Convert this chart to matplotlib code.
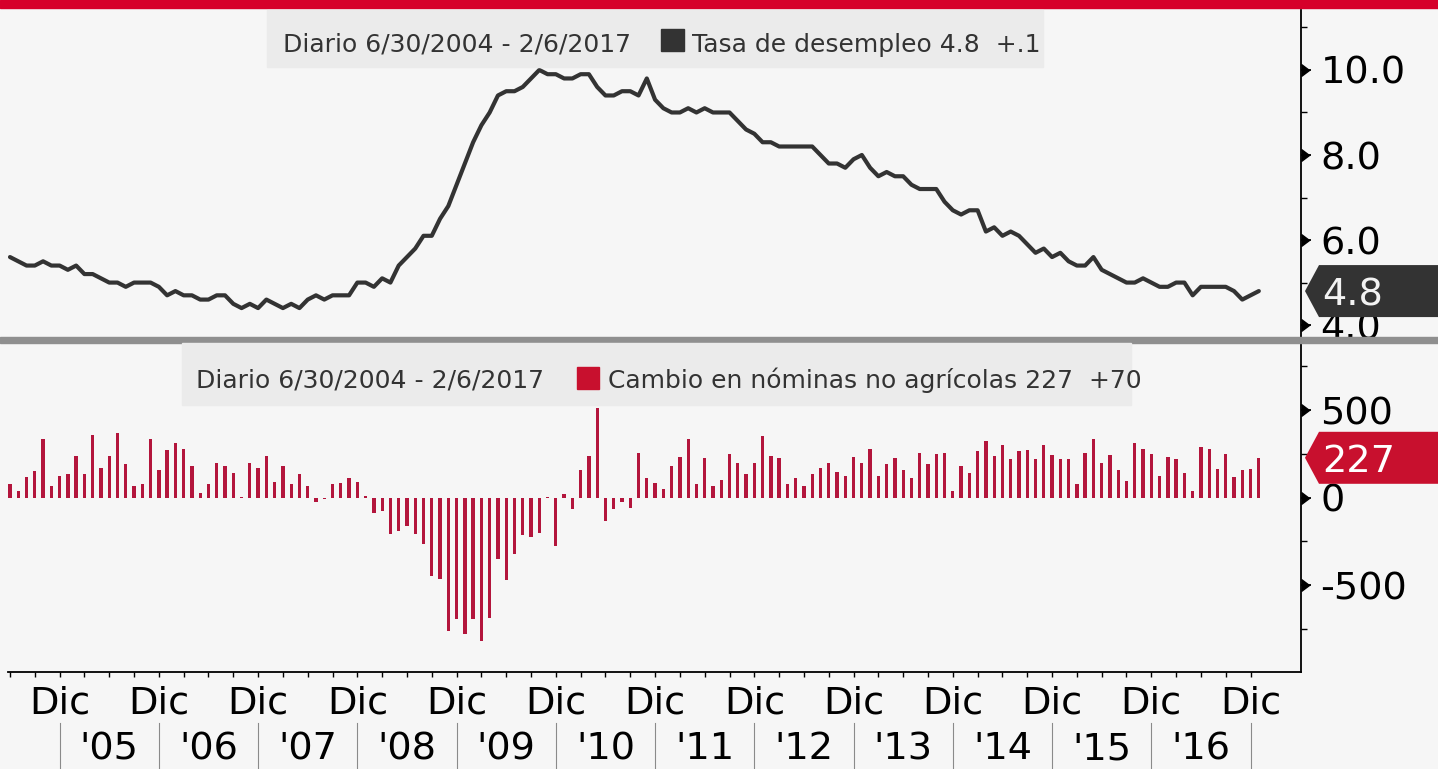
import numpy as np
import matplotlib
matplotlib.use("Agg")
import matplotlib.pyplot as plt
from matplotlib.patches import Rectangle, Polygon

plt.rcParams["font.family"] = ["DejaVu Sans"]
plt.rcParams["axes.unicode_minus"] = False

# ---------------- data ----------------
start_year, start_month = 2004, 6   # first observation: June 2004

# Unemployment rate (%), monthly Jun-2004 .. Jan-2017
unemployment = [
    5.6, 5.5, 5.4, 5.4, 5.5, 5.4, 5.4,
    5.3, 5.4, 5.2, 5.2, 5.1, 5.0, 5.0, 4.9, 5.0, 5.0, 5.0, 4.9,
    4.7, 4.8, 4.7, 4.7, 4.6, 4.6, 4.7, 4.7, 4.5, 4.4, 4.5, 4.4,
    4.6, 4.5, 4.4, 4.5, 4.4, 4.6, 4.7, 4.6, 4.7, 4.7, 4.7, 5.0,
    5.0, 4.9, 5.1, 5.0, 5.4, 5.6, 5.8, 6.1, 6.1, 6.5, 6.8, 7.3,
    7.8, 8.3, 8.7, 9.0, 9.4, 9.5, 9.5, 9.6, 9.8, 10.0, 9.9, 9.9,
    9.8, 9.8, 9.9, 9.9, 9.6, 9.4, 9.4, 9.5, 9.5, 9.4, 9.8, 9.3,
    9.1, 9.0, 9.0, 9.1, 9.0, 9.1, 9.0, 9.0, 9.0, 8.8, 8.6, 8.5,
    8.3, 8.3, 8.2, 8.2, 8.2, 8.2, 8.2, 8.0, 7.8, 7.8, 7.7, 7.9,
    8.0, 7.7, 7.5, 7.6, 7.5, 7.5, 7.3, 7.2, 7.2, 7.2, 6.9, 6.7,
    6.6, 6.7, 6.7, 6.2, 6.3, 6.1, 6.2, 6.1, 5.9, 5.7, 5.8, 5.6,
    5.7, 5.5, 5.4, 5.4, 5.6, 5.3, 5.2, 5.1, 5.0, 5.0, 5.1, 5.0,
    4.9, 4.9, 5.0, 5.0, 4.7, 4.9, 4.9, 4.9, 4.9, 4.8, 4.6, 4.7,
    4.8,
]

# Nonfarm payroll change (thousands), monthly Jun-2004 .. Jan-2017
payrolls = [
    76, 38, 115, 152, 337, 67, 124,
    133, 238, 133, 360, 167, 238, 367, 190, 67, 76, 337, 156,
    270, 314, 280, 181, 25, 76, 200, 181, 143, 2, 200, 171,
    238, 90, 181, 76, 133, 67, -25, -10, 76, 82, 114, 86,
    10, -86, -76, -210, -190, -162, -210, -267, -448, -467, -762, -695,
    -781, -695, -819, -686, -349, -470, -324, -215, -223, -200, 5, -276,
    19, -63, 158, 238, 514, -133, -67, -25, -57, 257, 114, 82,
    48, 181, 229, 337, 80, 225, 67, 101, 248, 200, 133, 200,
    349, 238, 225, 80, 114, 67, 133, 168, 200, 147, 124, 234,
    200, 280, 124, 190, 225, 156, 114, 257, 190, 248, 257, 38,
    181, 143, 267, 324, 238, 299, 219, 267, 270, 223, 299, 244,
    223, 223, 76, 257, 333, 200, 242, 156, 95, 310, 276, 248,
    124, 234, 223, 143, 38, 291, 276, 162, 248, 120, 158, 162,
    227,
]

period_label = "Diario 6/30/2004 - 2/6/2017"
unemp_label = "Tasa de desempleo 4.8  +.1"
payroll_label = "Cambio en nóminas no agrícolas 227  +70"
month_label = "Dic"
year_labels = ["'05", "'06", "'07", "'08", "'09", "'10", "'11",
               "'12", "'13", "'14", "'15", "'16"]
unemp_major = [4.0, 6.0, 8.0, 10.0]
unemp_minor = [5.0, 7.0, 9.0, 11.0]
payroll_major = [-500, 0, 500]
payroll_minor = [-750, -250, 250, 750]

# ---------------- styling ----------------
W, H = 1438, 769
BG = "#f6f6f6"
LEG_BG = "#ebebeb"
LINE_C = "#333333"
BAR_C = "#b3153c"
TAG_RED = "#c8102e"
TXT = "#333333"
TICK_FS = 27.5
LEG_FS = 18

fig = plt.figure(figsize=(W / 100, H / 100), dpi=100, facecolor=BG)


def fx(px):
    return px / W


def fy(py):
    return 1 - py / H


x_left_px, x_right_px = 8, 1301
ax1 = fig.add_axes([fx(x_left_px), fy(337), fx(x_right_px) - fx(x_left_px), (337 - 10) / H])
ax2 = fig.add_axes([fx(x_left_px), fy(672), fx(x_right_px) - fx(x_left_px), (672 - 343) / H])

n = len(unemployment)
x = np.arange(n)
month_of = [(start_month - 1 + i) % 12 for i in range(n)]  # 0=Jan
dec_idx = [i for i in range(n) if month_of[i] == 11]
quarter_idx = [i for i in range(n) if month_of[i] % 3 == 2]

for ax in (ax1, ax2):
    ax.set_facecolor(BG)
    ax.set_xlim(-0.24, 156.1)
    for s in ("top", "left"):
        ax.spines[s].set_visible(False)
    ax.spines["right"].set_color("black")
    ax.spines["right"].set_linewidth(1.3)
    ax.yaxis.tick_right()

# ---- top panel: unemployment line ----
ax1.plot(x, unemployment, color=LINE_C, lw=3.0, solid_joinstyle="round",
         solid_capstyle="round")
ax1.set_ylim(3.72, 11.41)
ax1.spines["bottom"].set_visible(False)
ax1.set_xticks([])
ax1.set_yticks(unemp_major, labels=[f"{v:.1f}" for v in unemp_major])
ax1.set_yticks(unemp_minor, minor=True)

# ---- bottom panel: payroll bars ----
ax2.bar(x, payrolls, width=0.4, color=BAR_C, linewidth=0)
ax2.set_ylim(-997, 883)
ax2.spines["bottom"].set_color("black")
ax2.spines["bottom"].set_linewidth(1.3)
ax2.set_yticks(payroll_major, labels=[f"{v:d}" for v in payroll_major])
ax2.set_yticks(payroll_minor, minor=True)
ax2.set_xticks(dec_idx, labels=[""] * len(dec_idx))
ax2.set_xticks(quarter_idx, minor=True)
ax2.tick_params(axis="x", which="both", direction="out", length=3.8, width=1,
                color="black")

for ax, majors in ((ax1, unemp_major), (ax2, payroll_major)):
    ax.tick_params(axis="y", which="major", direction="out", length=7, width=1.3,
                   pad=7, labelsize=TICK_FS, labelcolor="black")
    ax.tick_params(axis="y", which="minor", direction="out", length=4.5, width=1)
    ax.plot([1.0] * len(majors), majors, transform=ax.get_yaxis_transform(),
            marker=9, ms=8, color="black", ls="none", clip_on=False, zorder=5)

# x-axis labels: "Dic" under each December tick and year labels between
xform = ax2.get_xaxis_transform()
ax_h = 672 - 343
for i in dec_idx:
    ax2.text(i, (672 - 713) / ax_h, month_label, transform=xform, ha="center",
             va="baseline", fontsize=TICK_FS, color="black", clip_on=False)
    ax2.plot([i, i], [(672 - 723) / ax_h, (672 - 769) / ax_h], transform=xform,
             color="#8a8a8a", lw=0.8, clip_on=False)
for k, lab in enumerate(year_labels):
    mid = (dec_idx[k] + dec_idx[k + 1]) / 2
    ax2.text(mid, (672 - 759) / ax_h, lab, transform=xform, ha="center",
             va="baseline", fontsize=TICK_FS, color="black", clip_on=False)

# ---------------- figure decorations ----------------
# red band at top
fig.patches.append(Rectangle((0, fy(8)), 1, 8 / H, transform=fig.transFigure,
                             color="#d6002a", zorder=2))
# grey divider between panels
fig.patches.append(Rectangle((0, fy(343)), 1, 6 / H, transform=fig.transFigure,
                             color="#8f8f8f", zorder=2))


def px_rect(x0, y0, x1, y1, color, z=2):
    fig.patches.append(Rectangle((fx(x0), fy(y1)), fx(x1) - fx(x0), (y1 - y0) / H,
                                 transform=fig.transFigure, color=color, zorder=z))


# legends
px_rect(267, 10, 1043, 67, LEG_BG)
fig.text(fx(283), fy(52), period_label, fontsize=LEG_FS, color=TXT, va="baseline", zorder=4)
px_rect(661, 29, 684, 51, LINE_C, z=3)
fig.text(fx(692), fy(52), unemp_label, fontsize=LEG_FS, color=TXT, va="baseline", zorder=4)

px_rect(182, 343, 1131, 405, LEG_BG)
fig.text(fx(196), fy(388), period_label, fontsize=LEG_FS, color=TXT, va="baseline", zorder=4)
px_rect(577, 367, 599, 389, TAG_RED, z=3)
fig.text(fx(608), fy(388), payroll_label, fontsize=LEG_FS, color=TXT, va="baseline", zorder=4)


# value tags at right
def tag(ax, value, text, color, txtcolor):
    yd = ax.transData.transform((0, value))[1]
    yc = H - yd
    half = 26
    verts = [(1305, yc), (1319, yc - half), (W, yc - half), (W, yc + half),
             (1319, yc + half)]
    verts = [(fx(a), fy(b)) for a, b in verts]
    fig.patches.append(Polygon(verts, closed=True, transform=fig.transFigure,
                               facecolor=color, edgecolor="none", zorder=6))
    fig.text(fx(1322), fy(yc), text, fontsize=TICK_FS, color=txtcolor,
             va="center_baseline", ha="left", zorder=7)


tag(ax1, unemployment[-1], f"{unemployment[-1]:.1f}", "#333333", "#f2f2f2")
tag(ax2, payrolls[-1], f"{payrolls[-1]:d}", TAG_RED, "#ffffff")

fig.savefig("out.png", dpi=100, facecolor=BG)
